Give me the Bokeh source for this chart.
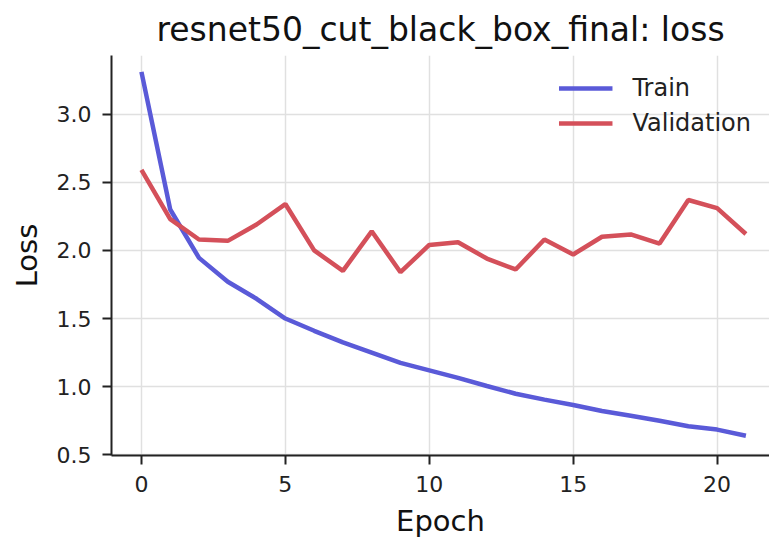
from bokeh.plotting import figure
from bokeh.models import Range1d, Legend, LegendItem, FixedTicker, CustomJSTickFormatter
from bokeh.embed import file_html
from bokeh.resources import INLINE

epochs = list(range(22))
train_loss = [3.31, 2.30, 1.945, 1.77, 1.645, 1.50, 1.41, 1.325, 1.25, 1.175, 1.12,
              1.065, 1.005, 0.948, 0.905, 0.866, 0.822, 0.786, 0.75, 0.71, 0.685, 0.64]
val_loss = [2.59, 2.23, 2.08, 2.07, 2.19, 2.34, 2.00, 1.85, 2.14, 1.84, 2.04,
            2.06, 1.94, 1.86, 2.08, 1.97, 2.10, 2.117, 2.05, 2.37, 2.31, 2.12]
x_ticks = [0, 5, 10, 15, 20]
y_ticks = [0.5, 1.0, 1.5, 2.0, 2.5, 3.0]

FONT = "DejaVu Sans"

p = figure(width=769, height=540, output_backend="svg", toolbar_location=None,
           x_range=Range1d(-1.04, 21.82), y_range=Range1d(0.495, 3.43),
           min_border_left=111, min_border_right=0, min_border_top=55, min_border_bottom=84)

p.title.text = "resnet50_cut_black_box_final: loss"
p.title.text_font = FONT
p.title.text_font_size = "33px"
p.title.text_font_style = "normal"
p.title.align = "center"
p.title.text_color = "#111111"
p.title.standoff = 13

train_r = p.line(epochs, train_loss, line_color="#5a5ad8", line_width=4.5)
val_r = p.line(epochs, val_loss, line_color="#d4505a", line_width=4.5)

p.outline_line_color = None
p.background_fill_color = "white"

for ax in (p.xaxis[0], p.yaxis[0]):
    ax.axis_line_width = 2
    ax.axis_line_color = "#222222"
    ax.major_tick_line_width = 2
    ax.major_tick_line_color = "#222222"
    ax.major_tick_out = 9
    ax.major_tick_in = 0
    ax.minor_tick_line_color = None
    ax.major_label_text_font = FONT
    ax.major_label_text_font_size = "22px"
    ax.major_label_text_color = "#222222"
    ax.axis_label_text_font = FONT
    ax.axis_label_text_font_size = "29px"
    ax.axis_label_text_font_style = "normal"
    ax.axis_label_text_color = "#111111"

p.xaxis.ticker = FixedTicker(ticks=x_ticks)
p.yaxis.ticker = FixedTicker(ticks=y_ticks)
p.yaxis.formatter = CustomJSTickFormatter(code="return tick.toFixed(1);")
p.xaxis.axis_label = "Epoch"
p.yaxis.axis_label = "Loss"
p.xaxis.major_label_standoff = 11
p.yaxis.major_label_standoff = 11
p.xaxis.axis_label_standoff = 9
p.yaxis.axis_label_standoff = 10

p.xgrid.ticker = FixedTicker(ticks=x_ticks)
p.ygrid.ticker = FixedTicker(ticks=y_ticks)
p.grid.grid_line_color = "#e0e0e0"
p.grid.grid_line_width = 1.5

legend = Legend(items=[LegendItem(label="Train", renderers=[train_r]),
                       LegendItem(label="Validation", renderers=[val_r])],
                location="top_right")
legend.border_line_color = None
legend.background_fill_alpha = 0
legend.label_text_font = FONT
legend.label_text_font_size = "24px"
legend.label_text_color = "#222222"
legend.glyph_width = 54
legend.glyph_height = 30
legend.label_height = 30
legend.label_standoff = 20
legend.spacing = 5
legend.margin = 18
legend.padding = 14
p.add_layout(legend)

open("out.html", "w").write(file_html(p, INLINE))
